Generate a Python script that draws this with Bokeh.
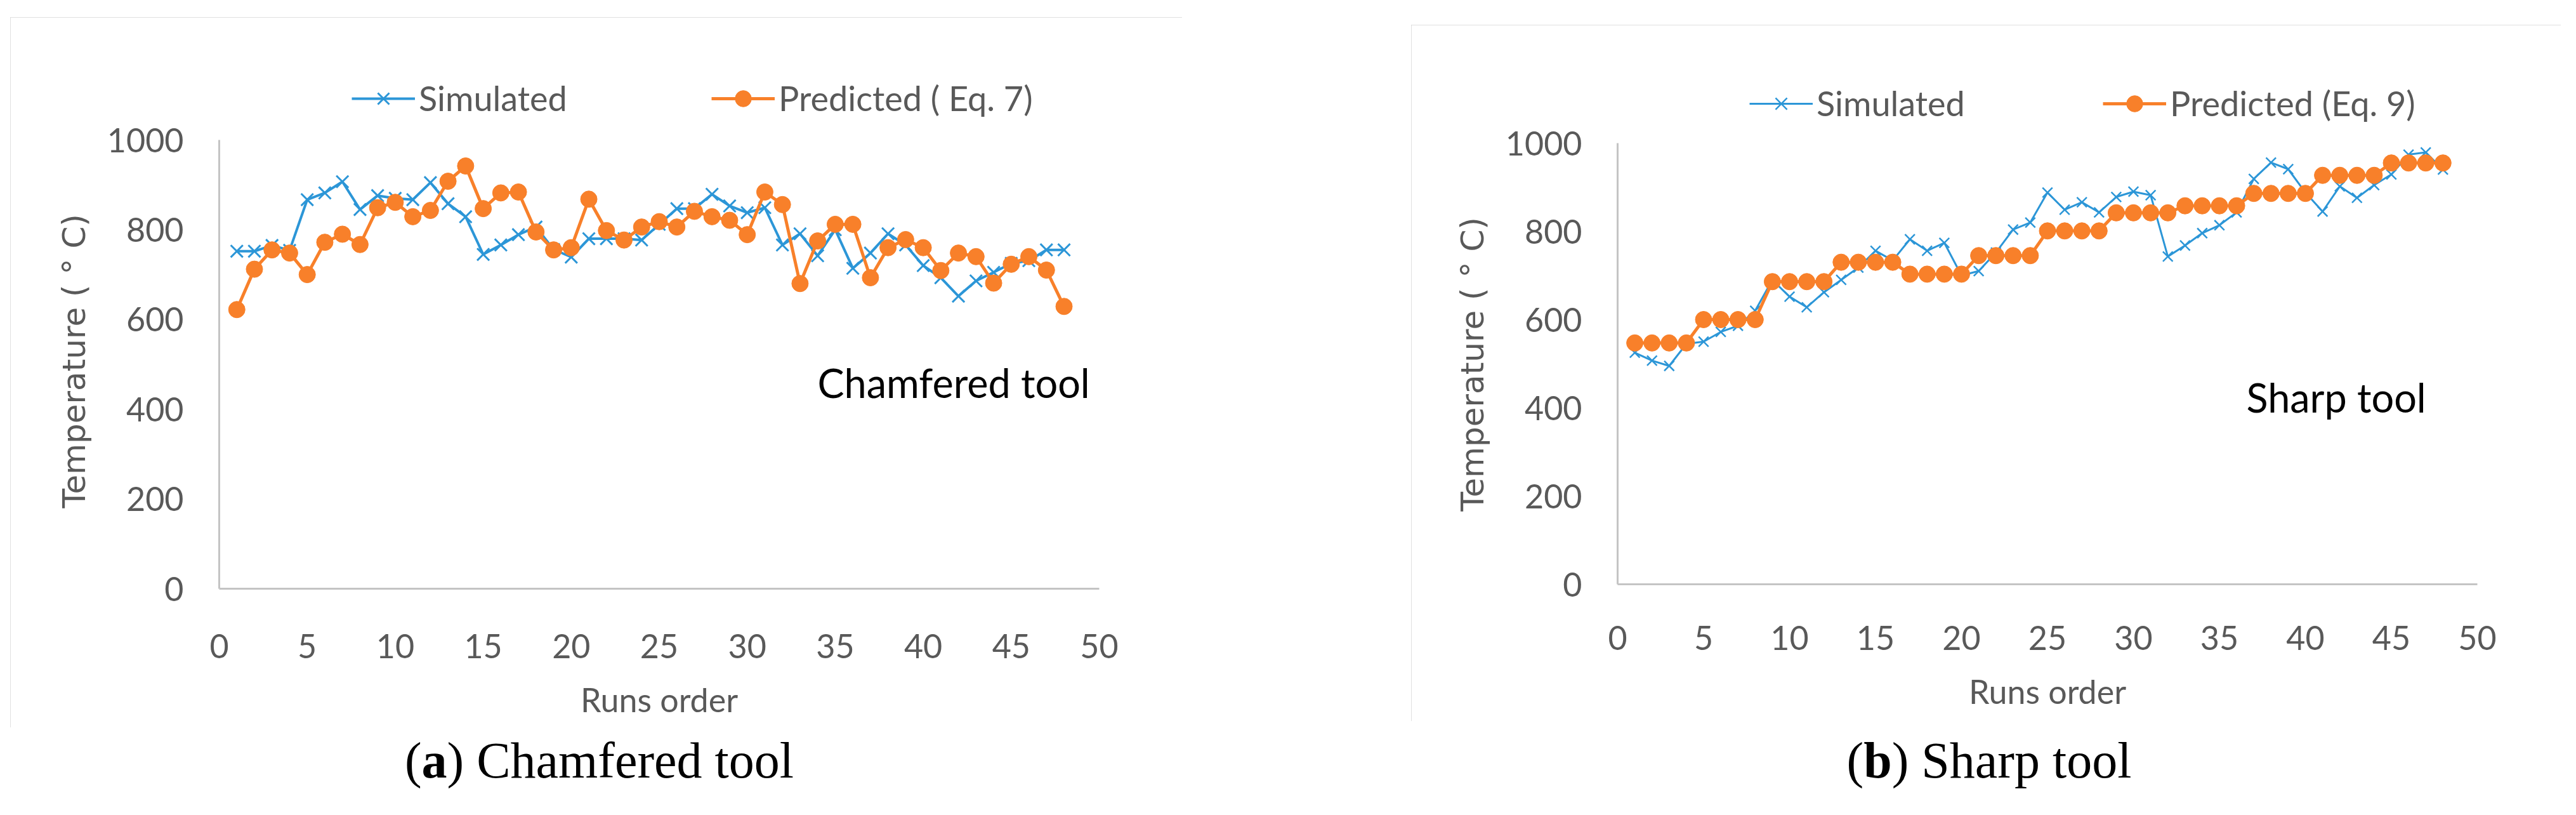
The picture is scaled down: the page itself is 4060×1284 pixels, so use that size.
from bokeh.plotting import figure
from bokeh.models import (Range1d, FixedTicker, Legend, LegendItem, Label,
                          Spacer, Div, Title)
from bokeh.layouts import row, column
from bokeh.embed import file_html
from bokeh.resources import INLINE

# ---------------- data ----------------
runs = list(range(1, 49))

chamfered_simulated = [752, 752, 765, 754, 867, 882, 907, 845, 876, 870, 867, 905,
                       858, 829, 745, 766, 789, 806, 756, 739, 780, 780, 780, 777,
                       812, 847, 847, 879, 853, 838, 849, 766, 791, 742, 800, 714,
                       748, 791, 766, 720, 693, 652, 686, 705, 725, 731, 755, 755]
chamfered_predicted = [622, 712, 755, 748, 700, 772, 790, 767, 849, 861, 829, 843,
                       908, 942, 847, 882, 884, 795, 755, 760, 868, 798, 777, 806,
                       818, 806, 841, 829, 821, 789, 884, 856, 680, 775, 812, 812,
                       693, 760, 778, 760, 709, 748, 740, 681, 723, 740, 710, 629]

sharp_simulated = [525, 507, 495, 545, 550, 572, 586, 620, 690, 652, 628, 662,
                   690, 718, 756, 734, 782, 756, 774, 700, 710, 752, 804, 820,
                   888, 849, 866, 843, 878, 890, 882, 743, 768, 796, 814, 843,
                   919, 956, 941, 888, 845, 902, 876, 905, 929, 974, 979, 940]
sharp_predicted = [547, 547, 547, 547, 600, 600, 600, 600, 686, 686, 686, 686,
                   730, 730, 730, 730, 703, 703, 703, 703, 745, 745, 745, 745,
                   801, 801, 801, 801, 842, 842, 842, 842, 858, 858, 858, 858,
                   886, 886, 886, 886, 927, 927, 927, 927, 955, 955, 955, 955]

x_ticks = [0, 5, 10, 15, 20, 25, 30, 35, 40, 45, 50]
y_ticks = [0, 200, 400, 600, 800, 1000]
Y_AXIS_MAX = 1000

BLUE = "#2C96D7"
ORANGE = "#F8802A"
GRAY_TXT = "#595959"


def panel(width, height, mb_left, mb_right, frame_top, frame_h_data, mb_bottom,
          sim, pred, pred_label, note, note_x, note_y, leg1_x, leg2_x, leg_y,
          xlab_standoff, x_title_standoff, title_offset, title_standoff,
          blue_w, blue_size, blue_mw):
    # frame extends above the 1000 tick (up to frame_top) so the legend sits
    # inside the frame; the visible axis is bounded at 0..1000
    frame_h = height - frame_top - mb_bottom
    y_top = Y_AXIS_MAX * frame_h / frame_h_data
    p = figure(width=width, height=height, output_backend="svg",
               toolbar_location=None, x_range=Range1d(0, 50),
               y_range=Range1d(0, y_top), min_border_left=mb_left,
               min_border_right=mb_right, min_border_top=frame_top,
               min_border_bottom=mb_bottom)
    p.outline_line_color = None
    p.grid.visible = False
    p.background_fill_color = "white"
    p.border_fill_color = "white"
    p.styles = {"outline": "4px solid #d6d6d6", "outline-offset": "-4px"}

    p.xaxis.ticker = FixedTicker(ticks=x_ticks)
    p.yaxis.ticker = FixedTicker(ticks=y_ticks)
    p.yaxis.bounds = (0, Y_AXIS_MAX)
    for ax in (p.xaxis[0], p.yaxis[0]):
        ax.major_tick_line_color = None
        ax.minor_tick_line_color = None
        ax.major_tick_out = 0
        ax.major_tick_in = 0
        ax.axis_line_color = "#c4c4c4"
        ax.axis_line_width = 3
        ax.major_label_text_font = "Lato"
        ax.major_label_text_font_size = "52px"
        ax.major_label_text_color = GRAY_TXT
        ax.axis_label_text_font_style = "normal"
        ax.axis_label_text_color = GRAY_TXT
    p.yaxis.major_label_standoff = 56
    p.xaxis.major_label_standoff = xlab_standoff
    p.xaxis.axis_label = "Runs order"
    p.xaxis.axis_label_text_font = "Lato"
    p.xaxis.axis_label_text_font_size = "52px"
    p.xaxis.axis_label_standoff = x_title_standoff

    # y-axis title: anchored from the bottom of the 0..1000 span
    p.add_layout(Title(text="Temperature ( \u00b0 C)", align="left",
                       offset=title_offset, standoff=title_standoff,
                       text_font="DejaVu Sans", text_font_size="50px",
                       text_font_style="normal", text_color=GRAY_TXT), "left")

    l1 = p.line(runs, sim, line_color=BLUE, line_width=blue_w)
    s1 = p.scatter(runs, sim, marker="x", size=blue_size, line_color=BLUE,
                   line_width=blue_mw)
    l2 = p.line(runs, pred, line_color=ORANGE, line_width=5)
    s2 = p.scatter(runs, pred, marker="circle", size=26, fill_color=ORANGE,
                   line_color=ORANGE)

    common = dict(orientation="horizontal", glyph_width=100, glyph_height=64,
                  label_height=60, label_standoff=6, padding=0, margin=0,
                  border_line_color=None, background_fill_alpha=0,
                  label_text_font="Lato", label_text_font_size="54px",
                  label_text_color=GRAY_TXT)
    leg1 = Legend(items=[LegendItem(label="Simulated", renderers=[l1, s1])],
                  location=(leg1_x, leg_y), **common)
    leg2 = Legend(items=[LegendItem(label=pred_label, renderers=[l2, s2])],
                  location=(leg2_x, leg_y), **common)
    p.add_layout(leg1)
    p.add_layout(leg2)

    p.add_layout(Label(x=note_x, y=note_y, x_units="screen", y_units="screen",
                       text=note, text_font="Lato", text_font_size="63px",
                       text_color="black", text_baseline="alphabetic"))
    return p


def caption(width, height, html, pad_top):
    style = ("font-family:'Liberation Serif',serif;font-size:80px;"
             "line-height:80px;text-align:center;color:black;"
             "white-space:nowrap;width:%dpx;padding-top:%dpx;margin:0;"
             % (width, pad_top))
    return Div(text='<div style="%s">%s</div>' % (style, html),
               width=width, height=height)


left = panel(1847, 1119, 329, 131, 25, 707, 219, chamfered_simulated,
             chamfered_predicted, "Predicted ( Eq. 7)", "Chamfered tool",
             943, 325, 209, 776, 740, 71, 31, 127, 40, 4, 27, 3)
right = panel(1812, 1097, 325, 132, 13, 695, 216, sharp_simulated,
              sharp_predicted, "Predicted (Eq. 9)", "Sharp tool",
              991, 295, 208, 765, 725, 65, 31, 115, 40, 3, 22, 2.5)

left_cap = caption(1847, 118, "(<b>a</b>) Chamfered tool", 7)
right_cap = caption(1812, 128, "(<b>b</b>) Sharp tool", 17)

col1 = column(Spacer(width=1847, height=27), left, left_cap)
col2 = column(Spacer(width=1812, height=39), right, right_cap)
layout = row(Spacer(width=16, height=10), col1, Spacer(width=351, height=10), col2)

open("out.html", "w").write(file_html(layout, INLINE))
